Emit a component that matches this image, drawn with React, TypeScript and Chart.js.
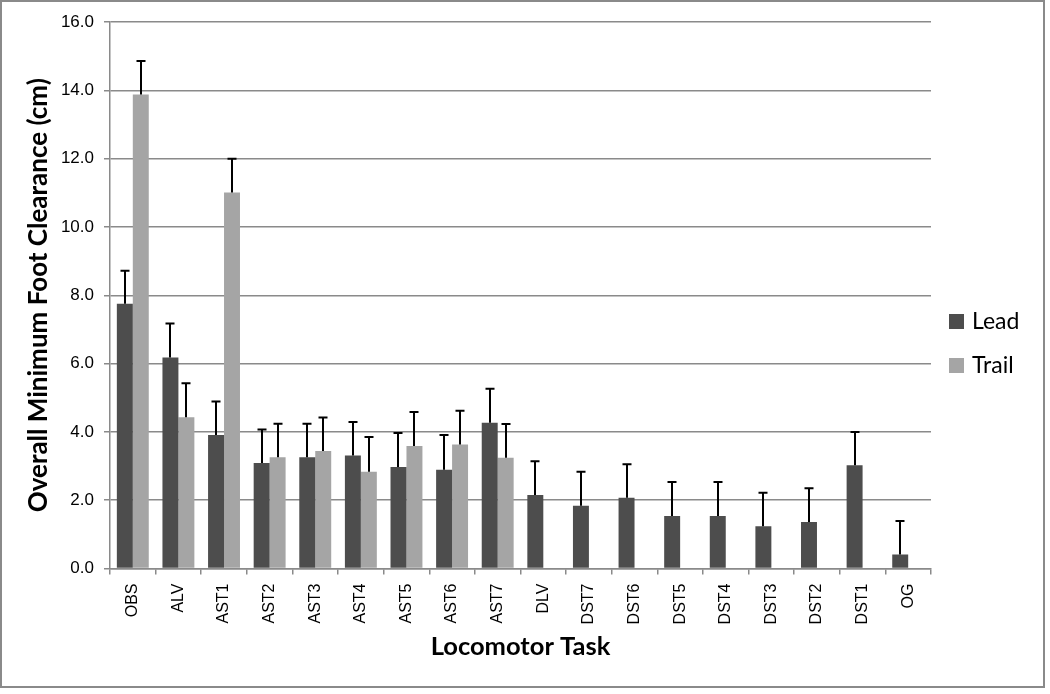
import React, { useEffect, useRef } from "react";
import { Chart, registerables } from "chart.js";

Chart.register(...registerables);

const categories = ["OBS", "ALV", "AST1", "AST2", "AST3", "AST4", "AST5", "AST6", "AST7", "DLV", "DST7", "DST6", "DST5", "DST4", "DST3", "DST2", "DST1", "OG"];
const leadValues = [7.75, 6.18, 3.91, 3.09, 3.26, 3.31, 2.97, 2.89, 4.27, 2.15, 1.84, 2.07, 1.54, 1.54, 1.24, 1.36, 3.02, 0.41];
const leadErrors = [0.97, 0.99, 0.98, 0.98, 0.98, 0.98, 1.0, 1.02, 0.99, 0.99, 0.99, 0.98, 0.99, 0.99, 0.98, 0.99, 0.98, 0.98];
const trailValues: (number | null)[] = [13.88, 4.43, 11.01, 3.26, 3.44, 2.83, 3.59, 3.63, 3.24, null, null, null, null, null, null, null, null, null];
const trailErrors: (number | null)[] = [0.98, 0.99, 0.99, 0.98, 0.98, 1.02, 0.99, 0.99, 0.99, null, null, null, null, null, null, null, null, null];
const yTickValues = [0, 2, 4, 6, 8, 10, 12, 14, 16];
const seriesNames = ["Lead", "Trail"];
const seriesColors = ["#4d4d4d", "#a5a5a5"];
const xTitle = "Locomotor Task";
const yTitle = "Overall Minimum Foot Clearance (cm)";

const errorsBySeries = [leadErrors, trailErrors];

const errorBarPlugin = {
  id: "errorBars",
  afterDatasetsDraw(chart: any) {
    const ctx = chart.ctx;
    const yScale = chart.scales.y;
    ctx.save();
    ctx.strokeStyle = "#000000";
    ctx.lineWidth = 2;
    chart.data.datasets.forEach((ds: any, i: number) => {
      const meta = chart.getDatasetMeta(i);
      const errs = errorsBySeries[i];
      meta.data.forEach((el: any, j: number) => {
        const v = ds.data[j];
        const e = errs[j];
        if (v == null || e == null) return;
        const x = Math.round(el.x);
        const yBase = yScale.getPixelForValue(v);
        const yTop = yScale.getPixelForValue(v + e);
        ctx.beginPath();
        ctx.moveTo(x, yBase);
        ctx.lineTo(x, yTop);
        ctx.moveTo(x - 4.5, yTop);
        ctx.lineTo(x + 4.5, yTop);
        ctx.stroke();
      });
    });
    ctx.restore();
  },
};

const legendAndBorderPlugin = {
  id: "legendAndBorder",
  afterDraw(chart: any) {
    const ctx = chart.ctx;
    ctx.save();
    const startY = 314;
    const gap = 44;
    seriesNames.forEach((name, i) => {
      const y = startY + i * gap;
      ctx.fillStyle = seriesColors[i];
      ctx.fillRect(949, y, 15, 15);
      ctx.fillStyle = "#000000";
      ctx.font = "23px Lato";
      ctx.textAlign = "left";
      ctx.textBaseline = "middle";
      ctx.fillText(name, 972, y + 8);
    });
    ctx.strokeStyle = "#8a8a8a";
    ctx.lineWidth = 2;
    ctx.strokeRect(1, 1, 1043, 686);
    ctx.restore();
  },
};

export default function App() {
  const canvasRef = useRef<HTMLCanvasElement | null>(null);

  useEffect(() => {
    if (!canvasRef.current) return;
    const chart = new Chart(canvasRef.current, {
      type: "bar",
      data: {
        labels: categories,
        datasets: [
          {
            label: seriesNames[0],
            data: leadValues,
            backgroundColor: seriesColors[0],
            borderWidth: 0,
            categoryPercentage: 0.7,
            barPercentage: 1.0,
          },
          {
            label: seriesNames[1],
            data: trailValues,
            backgroundColor: seriesColors[1],
            borderWidth: 0,
            categoryPercentage: 0.7,
            barPercentage: 1.0,
          },
        ],
      },
      options: {
        responsive: false,
        animation: false,
        devicePixelRatio: 1,
        layout: { padding: { top: 22, right: 119, bottom: 0, left: 0 } },
        plugins: {
          legend: { display: false },
          tooltip: { enabled: false },
        },
        scales: {
          x: {
            grid: {
              display: true,
              drawOnChartArea: false,
              drawTicks: true,
              tickLength: 6,
              color: "#8a8a8a",
              lineWidth: 1.5,
            },
            border: { color: "#8a8a8a", width: 1.5 },
            ticks: {
              minRotation: 90,
              maxRotation: 90,
              autoSkip: false,
              padding: 9,
              color: "#000000",
              font: { family: "Liberation Sans", size: 16 },
            },
            title: {
              display: true,
              text: xTitle,
              color: "#000000",
              font: { family: "Lato", size: 25.5, weight: "bold" },
              padding: { top: 0, bottom: 32 },
            },
            afterFit(scale: any) {
              scale.height = 125.5;
            },
          },
          y: {
            min: 0,
            max: 16,
            afterBuildTicks(scale: any) {
              scale.ticks = yTickValues.map((v) => ({ value: v }));
            },
            grid: {
              color: "#8a8a8a",
              lineWidth: 1.5,
              drawTicks: true,
              tickLength: 6,
            },
            border: { color: "#8a8a8a", width: 1.5 },
            ticks: {
              padding: 10,
              color: "#000000",
              font: { family: "Liberation Sans", size: 17 },
              callback: (v: any) => Number(v).toFixed(1),
            },
            title: {
              display: true,
              text: yTitle,
              color: "#000000",
              font: { family: "Lato", size: 26, weight: "bold" },
              padding: { top: 23, bottom: 0 },
            },
            afterFit(scale: any) {
              scale.width = 110;
            },
          },
        },
      },
      plugins: [errorBarPlugin, legendAndBorderPlugin],
    });
    return () => chart.destroy();
  }, []);

  return (
    <div style={{ position: "absolute", left: 0, top: 0, width: 1050, height: 694, background: "#ffffff" }}>
      <canvas ref={canvasRef} width={1050} height={694} style={{ display: "block" }} />
    </div>
  );
}
